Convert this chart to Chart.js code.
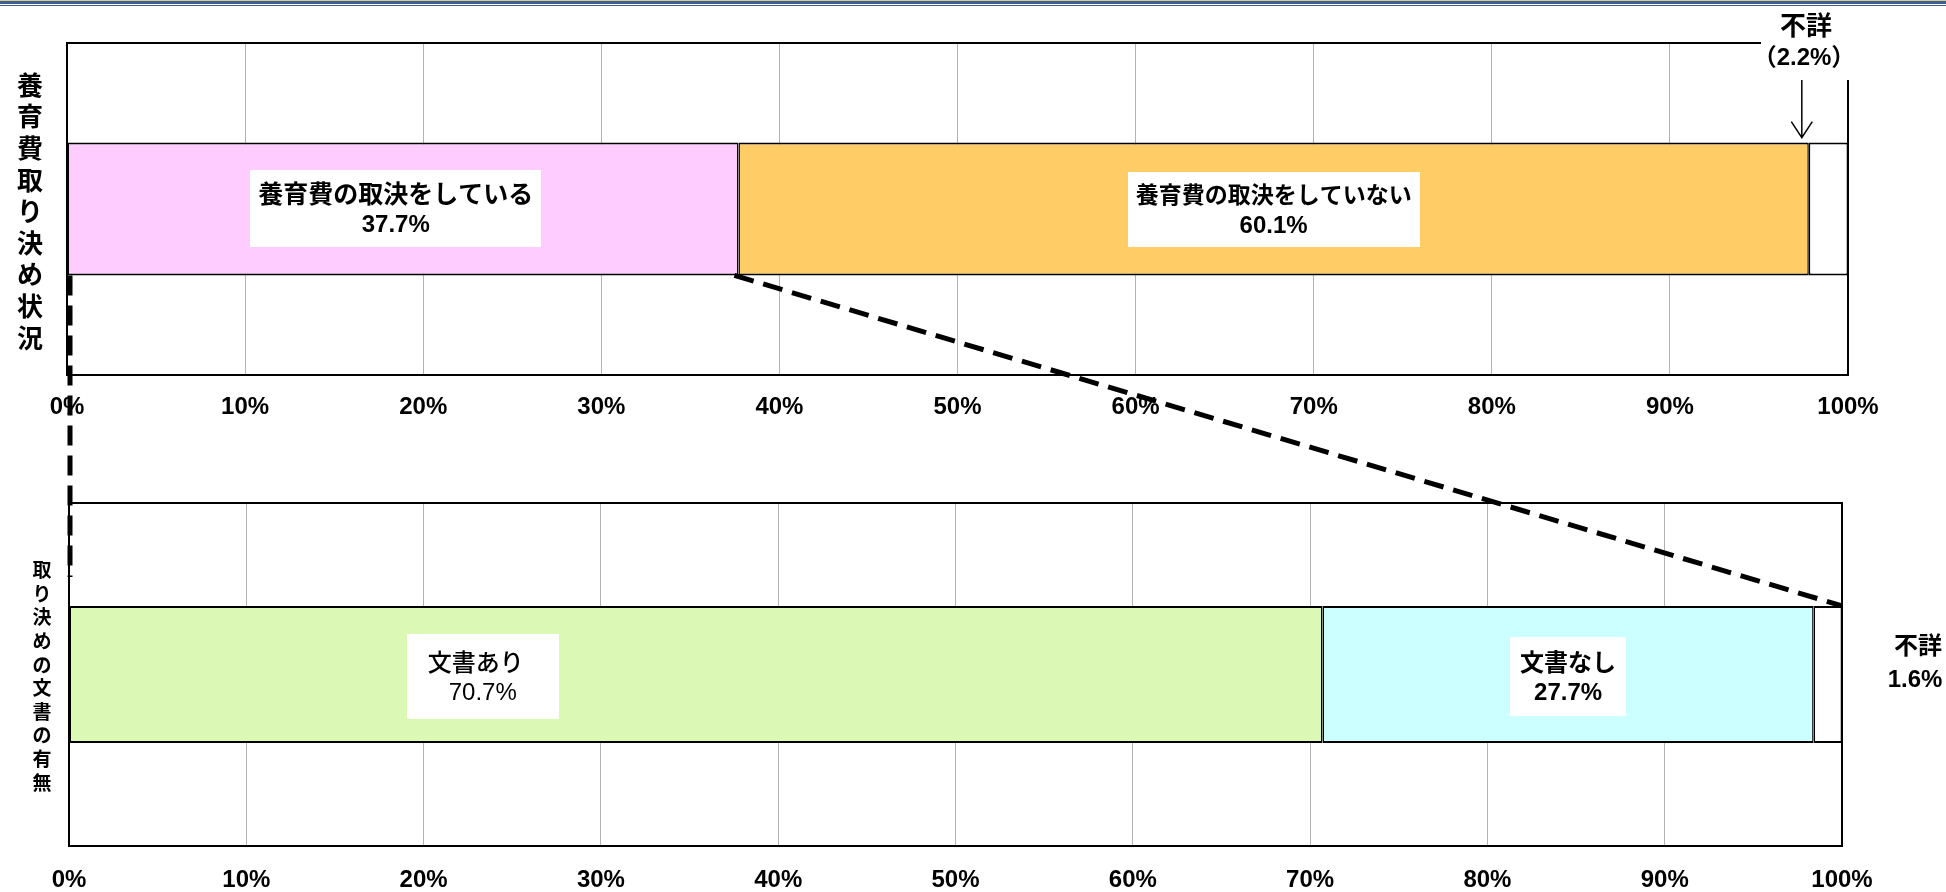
<!DOCTYPE html>
<html><head><meta charset="utf-8">
<script src="https://cdn.jsdelivr.net/npm/chart.js@4.4.1/dist/chart.umd.min.js"></script>
<style>
html,body{margin:0;padding:0;background:#fff;width:1946px;height:892px;overflow:hidden;}
#wrap{position:relative;width:1946px;height:892px;}
canvas{position:absolute;left:0;}
#cA{top:0;} #cB{top:440px;} #ov{top:0;pointer-events:none;z-index:5;}
.rule{position:absolute;left:0;width:1946px;z-index:6;}
</style></head><body>
<div id="wrap">
<canvas id="cA" width="1946" height="440"></canvas>
<canvas id="cB" width="1946" height="452"></canvas>
<canvas id="ov" width="1946" height="892"></canvas>
<div class="rule" style="top:0;height:1px;background:#d8cf80"></div>
<div class="rule" style="top:1px;height:3px;background:#3d5f95"></div>
<div class="rule" style="top:5px;height:1px;background:#3d5f95"></div>
</div>
<script>
// ---- data ----
const topCategory = ['養育費取り決め状況'];
const topSeriesNames = ['養育費の取決をしている', '養育費の取決をしていない', '不詳'];
const topValues = [37.7, 60.1, 2.2];
const bottomCategory = ['取り決めの文書の有無'];
const bottomSeriesNames = ['文書あり', '文書なし', '不詳'];
const bottomValues = [70.7, 27.7, 1.6];
const tickStep = 10;
const axisMin = 0, axisMax = 100;

// ---- styles ----
const topColors = ['#FFCCFF', '#FFCC66', '#FFFFFF'];
const bottomColors = ['#DBF8B5', '#CCFFFF', '#FFFFFF'];
const JP = '"Noto Sans CJK JP", sans-serif';
const NUM = '"Liberation Sans Narrow", "Liberation Sans", "Noto Sans CJK JP", sans-serif';

function pct(v){ return v.toFixed(1) + '%'; }

function makeDatasets(names, values, colors){
  return names.map((n, i) => ({
    label: n,
    data: [values[i]],
    backgroundColor: colors[i],
    borderColor: '#000',
    borderWidth: {top: 2, bottom: 2, left: 1.5, right: 1.5},
    borderSkipped: false,
    stack: 's',
    barPercentage: 0.4,
    categoryPercentage: 1.0
  }));
}

function segCenter(chart, values, i){
  const x = chart.scales.x;
  let s = 0; for (let k = 0; k < i; k++) s += values[k];
  return (x.getPixelForValue(s) + x.getPixelForValue(s + values[i])) / 2;
}

function barBox(chart){
  const el = chart.getDatasetMeta(0).data[0];
  return {top: el.y - el.height / 2, bottom: el.y + el.height / 2, cy: el.y};
}

function drawLabelBox(ctx, cx, cy, w, h, l1, l2, f1, f2, dx1){
  ctx.save();
  ctx.fillStyle = '#fff';
  ctx.fillRect(Math.round(cx - w / 2), Math.round(cy - h / 2), w, h);
  ctx.fillStyle = '#000';
  ctx.textAlign = 'center';
  ctx.textBaseline = 'middle';
  ctx.font = f1;
  ctx.fillText(l1, cx + (dx1 || 0), cy - 15);
  ctx.font = f2;
  ctx.fillText(l2, cx, cy + 17);
  ctx.restore();
}

function drawVertical(ctx, text, x, y0, step, font){
  ctx.save();
  ctx.fillStyle = '#000';
  ctx.font = font;
  ctx.textAlign = 'center';
  ctx.textBaseline = 'middle';
  [...text].forEach((c, i) => ctx.fillText(c, x, y0 + i * step));
  ctx.restore();
}

const framePlugin = {
  id: 'frame',
  afterDatasetsDraw(chart){
    const a = chart.chartArea, ctx = chart.ctx;
    ctx.save();
    ctx.strokeStyle = '#000';
    ctx.lineWidth = 2;
    ctx.strokeRect(a.left, a.top, a.right - a.left, a.bottom - a.top);
    ctx.restore();
  }
};

function scaleOpts(h, pad){
  return {
    x: {
      type: 'linear', min: axisMin, max: axisMax,
      grid: {color: '#b3b3b3', lineWidth: 1, drawTicks: false},
      border: {display: true, color: '#000', width: 2},
      ticks: {stepSize: tickStep, padding: pad, color: '#000',
        font: {family: NUM, size: 24, weight: 'bold'},
        callback: v => v + '%'},
      afterFit(s){ s.height = h; }
    },
    y: {display: false, stacked: true}
  };
}

let chartA = null, chartB = null;

function drawOverlay(){
  if (!chartA || !chartB) return;
  const ov = document.getElementById('ov').getContext('2d');
  ov.clearRect(0, 0, 1946, 892);
  const offB = 440;
  const bA = barBox(chartA), bB = barBox(chartB);
  ov.save();
  ov.strokeStyle = '#000';
  ov.lineWidth = 5;
  ov.setLineDash([20, 10]);
  // left vertical connector
  const lx = chartA.scales.x.getPixelForValue(0) + 3;
  ov.beginPath();
  ov.moveTo(lx, bA.bottom);
  ov.lineTo(lx, bB.top + offB - 29);
  ov.stroke();
  // diagonal connector
  ov.beginPath();
  ov.moveTo(chartA.scales.x.getPixelForValue(topValues[0]) - 4, bA.bottom);
  ov.lineTo(chartB.scales.x.getPixelForValue(axisMax), bB.top + offB);
  ov.stroke();
  ov.restore();
}

const annoA = {
  id: 'annoA',
  afterDraw(chart){
    const ctx = chart.ctx, b = barBox(chart), x = chart.scales.x, a = chart.chartArea;
    drawLabelBox(ctx, segCenter(chart, topValues, 0) - 7, b.cy - 1, 291, 77,
      topSeriesNames[0], pct(topValues[0]), 'bold 25px ' + JP, 'bold 24px ' + NUM);
    drawLabelBox(ctx, segCenter(chart, topValues, 1), b.cy, 292, 75,
      topSeriesNames[1], pct(topValues[1]), 'bold 23px ' + JP, 'bold 24px ' + NUM);
    drawVertical(ctx, topCategory[0], 30, 85, 31.6, 'bold 26px ' + JP);
    // 不詳 callout
    ctx.save();
    ctx.fillStyle = '#fff';
    ctx.fillRect(a.right - 87, 8, 90, 72);
    ctx.fillStyle = '#000';
    ctx.textAlign = 'center';
    ctx.textBaseline = 'middle';
    ctx.font = 'bold 26px ' + JP;
    ctx.fillText(topSeriesNames[2], a.right - 42, 25);
    ctx.font = 'bold 24px ' + NUM;
    ctx.fillText('（' + pct(topValues[2]) + '）', a.right - 44, 58);
    const ax = x.getPixelForValue(axisMax - topValues[2]) - 7;
    ctx.strokeStyle = '#000';
    ctx.lineWidth = 1.5;
    ctx.beginPath();
    ctx.moveTo(ax, 80); ctx.lineTo(ax, b.top - 5);
    ctx.moveTo(ax - 10.5, b.top - 21); ctx.lineTo(ax, b.top - 5); ctx.lineTo(ax + 10.5, b.top - 21);
    ctx.stroke();
    ctx.restore();
  },
  afterRender(){ drawOverlay(); }
};

const annoB = {
  id: 'annoB',
  afterDraw(chart){
    const ctx = chart.ctx, b = barBox(chart);
    drawLabelBox(ctx, segCenter(chart, bottomValues, 0) - 213, b.cy + 2, 152, 85,
      bottomSeriesNames[0], pct(bottomValues[0]), '500 24px ' + JP, '24px ' + NUM, -7);
    drawLabelBox(ctx, segCenter(chart, bottomValues, 1), b.cy + 2, 116, 79,
      bottomSeriesNames[1], pct(bottomValues[1]), 'bold 24px ' + JP, 'bold 24px ' + NUM);
    drawVertical(ctx, bottomCategory[0], 42, 130, 23.6, 'bold 19px ' + JP);
    ctx.save();
    ctx.fillStyle = '#000';
    ctx.textAlign = 'center';
    ctx.textBaseline = 'middle';
    ctx.font = 'bold 24px ' + JP;
    ctx.fillText(bottomSeriesNames[2], 1918, 205);
    ctx.font = 'bold 24px ' + NUM;
    ctx.fillText(pct(bottomValues[2]), 1915, 240);
    ctx.restore();
  },
  afterRender(){ drawOverlay(); }
};

const common = {
  indexAxis: 'y',
  responsive: false,
  animation: false,
  events: [],
  plugins: {legend: {display: false}, tooltip: {enabled: false}, title: {display: false}}
};

chartA = new Chart(document.getElementById('cA'), {
  type: 'bar',
  data: {labels: topCategory, datasets: makeDatasets(topSeriesNames, topValues, topColors)},
  options: Object.assign({}, common, {
    layout: {padding: {left: 67, right: 98, top: 43, bottom: 0}},
    scales: scaleOpts(65, 18)
  }),
  plugins: [framePlugin, annoA]
});

chartB = new Chart(document.getElementById('cB'), {
  type: 'bar',
  data: {labels: bottomCategory, datasets: makeDatasets(bottomSeriesNames, bottomValues, bottomColors)},
  options: Object.assign({}, common, {
    layout: {padding: {left: 69, right: 104, top: 63, bottom: 0}},
    scales: scaleOpts(46, 20)
  }),
  plugins: [framePlugin, annoB]
});
drawOverlay();
</script>
</body></html>
